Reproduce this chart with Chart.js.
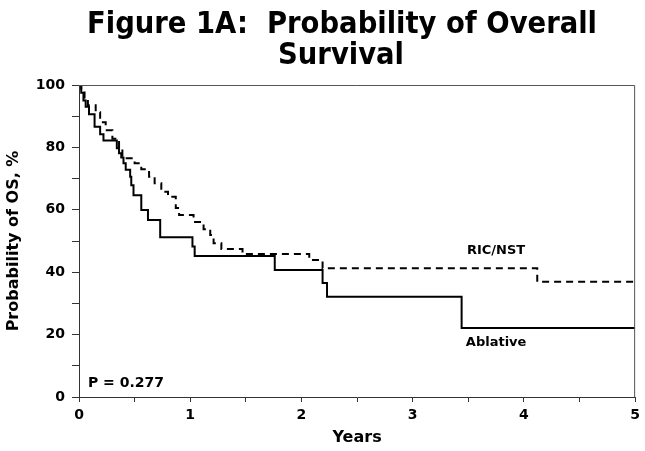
<!DOCTYPE html>
<html>
<head>
<meta charset="utf-8">
<script src="https://cdn.jsdelivr.net/npm/chart.js@4.4.1/dist/chart.umd.min.js"></script>
<style>
  html, body { margin: 0; padding: 0; background: #fff; }
  canvas { display: block; }
</style>
</head>
<body>
<canvas id="km" width="645" height="451"></canvas>
<script>
// Kaplan-Meier steps (years, % surviving)
const ablativeYears = [0, 0.02, 0.04, 0.06, 0.09, 0.14, 0.19, 0.22, 0.34, 0.36, 0.38, 0.40, 0.42, 0.46, 0.47, 0.49, 0.56, 0.62, 0.73, 1.02, 1.04, 1.76, 2.19, 2.23, 3.44, 5];
const ablativeOS    = [100, 97.5, 95, 93, 90.6, 86.6, 84.2, 82.2, 79.7, 78.1, 76.8, 74.9, 72.8, 70.6, 67.9, 64.7, 59.9, 56.7, 51.2, 48.2, 45.2, 40.7, 36.5, 32.1, 22.1, 22.1];
const ricYears = [0, 0.02, 0.05, 0.08, 0.15, 0.19, 0.24, 0.30, 0.36, 0.39, 0.50, 0.56, 0.63, 0.68, 0.74, 0.80, 0.87, 0.90, 1.03, 1.12, 1.18, 1.21, 1.28, 1.47, 2.07, 2.19, 4.12, 5];
const ricOS    = [100, 98, 96, 93.5, 91.3, 88.1, 85.5, 82.8, 79.6, 76.5, 74.9, 73, 70.6, 68.5, 65.8, 64.2, 60.6, 58.3, 56.1, 53.8, 51.9, 49.3, 47.4, 45.8, 43.9, 41.3, 36.9, 36.9];

const xTickLabels = [0, 1, 2, 3, 4, 5];
const yTickLabels = [0, 20, 40, 60, 80, 100];

const titleLines = ['Figure 1A:  Probability of Overall', 'Survival'];

// text placed inside the plot, in data units
const notes = [
  { text: 'RIC/NST', x: 3.75, y: 47, align: 'center' },
  { text: 'Ablative', x: 3.75, y: 17.5, align: 'center' },
  { text: 'P = 0.277', x: 0.08, y: 4.3, align: 'left' }
];

const toPoints = (xs, ys) => xs.map((x, i) => ({ x: x, y: ys[i] }));

Chart.defaults.font.family = "'DejaVu Sans', Verdana, sans-serif";
Chart.defaults.color = '#000';

const extras = {
  id: 'extras',
  afterDatasetsDraw(chart) {
    const { ctx, chartArea: a, scales } = chart;
    ctx.save();
    // frame around the plot
    ctx.strokeStyle = '#555';
    ctx.lineWidth = 1;
    ctx.beginPath();
    ctx.moveTo(a.left, a.top + 0.5);
    ctx.lineTo(a.right - 0.5, a.top + 0.5);
    ctx.lineTo(a.right - 0.5, a.bottom);
    ctx.stroke();

    ctx.fillStyle = '#000';
    ctx.textBaseline = 'middle';
    notes.forEach(n => {
      ctx.textAlign = n.align;
      ctx.font = n.align === 'left' ? "bold 14px 'DejaVu Sans'" : "bold 13px 'DejaVu Sans'";
      ctx.fillText(n.text, scales.x.getPixelForValue(n.x), scales.y.getPixelForValue(n.y));
    });

    ctx.font = "bold 30.5px 'DejaVu Sans Condensed', 'DejaVu Sans'";
    ctx.textAlign = 'center';
    ctx.textBaseline = 'alphabetic';
    ctx.fillText(titleLines[0], 342, 33);
    ctx.fillText(titleLines[1], 341, 64);
    ctx.restore();
  }
};

new Chart(document.getElementById('km'), {
  type: 'line',
  data: {
    datasets: [
      {
        label: 'Ablative',
        data: toPoints(ablativeYears, ablativeOS),
        borderColor: '#000',
        borderWidth: 2,
        pointRadius: 0,
        stepped: true,
        fill: false
      },
      {
        label: 'RIC/NST',
        data: toPoints(ricYears, ricOS),
        borderColor: '#000',
        borderWidth: 2,
        borderDash: [7, 5],
        pointRadius: 0,
        stepped: true,
        fill: false
      }
    ]
  },
  options: {
    responsive: false,
    animation: false,
    layout: { padding: { top: 85, right: 9, left: 0, bottom: 0 } },
    plugins: {
      legend: { display: false },
      tooltip: { enabled: false },
      title: { display: false }
    },
    scales: {
      x: {
        type: 'linear',
        min: 0,
        max: 5,
        ticks: {
          stepSize: 0.5,
          autoSkip: false,
          maxRotation: 0,
          padding: 5,
          font: { size: 14, weight: 'bold' },
          callback: v => xTickLabels.includes(v) ? v : ''
        },
        grid: { drawOnChartArea: false, tickLength: 5, tickColor: '#333' },
        border: { color: '#333' },
        title: {
          display: true,
          text: 'Years',
          font: { size: 16, weight: 'bold' },
          padding: { top: 0, bottom: 4 }
        },
        afterFit: s => { s.height = 54; }
      },
      y: {
        min: 0,
        max: 100,
        ticks: {
          stepSize: 10,
          autoSkip: false,
          padding: 7,
          font: { size: 14, weight: 'bold' },
          callback: v => yTickLabels.includes(v) ? v : ''
        },
        grid: { drawOnChartArea: false, tickLength: 7, tickColor: '#333' },
        border: { color: '#333' },
        title: {
          display: true,
          text: 'Probability of OS, %',
          font: { size: 16, weight: 'bold' },
          padding: { top: 4, bottom: 0 }
        },
        afterFit: s => { s.width = 79; }
      }
    }
  },
  plugins: [extras]
});
</script>
</body>
</html>
